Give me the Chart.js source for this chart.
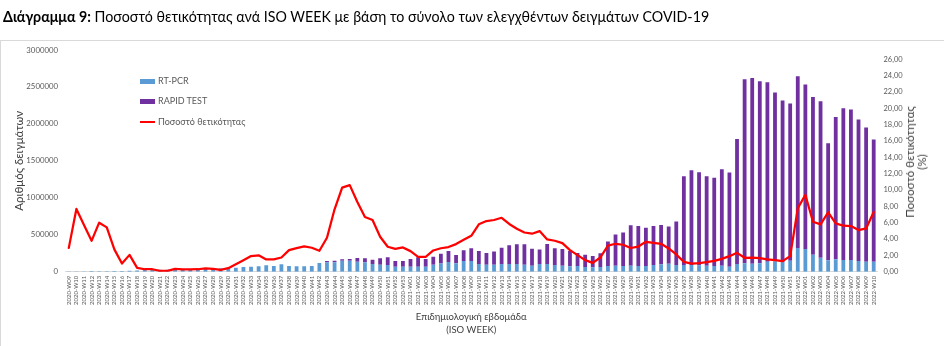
<!DOCTYPE html>
<html>
<head>
<meta charset="utf-8">
<script src="https://cdn.jsdelivr.net/npm/chart.js@4.4.1/dist/chart.umd.min.js"></script>
<style>
  html, body { margin: 0; padding: 0; background: #fff; }
  body { width: 944px; height: 346px; position: relative; overflow: hidden; font-family: Lato, 'Noto Sans', sans-serif; }
  #title { position: absolute; left: 3px; top: 7px; font-size: 15.5px; color: #000; white-space: nowrap;
           transform: scaleX(0.918); transform-origin: 0 0; }
  #title b { font-weight: 700; }
  #frame { position: absolute; left: 0; top: 40px; width: 980px; height: 340px; border-top: 1px solid #d9d9d9; border-left: 1px solid #d9d9d9; }
  #chart { position: absolute; left: 0; top: 0; }
  #legend { position: absolute; left: 0; top: 0; font-size: 9px; color: #595959; }
  .lg { position: absolute; white-space: nowrap; height: 12px; line-height: 12px; }
  .sw { position: absolute; left: 0; width: 15px; }
  .lt { position: absolute; left: 18px; top: 0; }
  #rtitle { position: absolute; left: 916px; top: 162px; transform: translate(-50%, -50%) rotate(-90deg);
            font-size: 11.5px; line-height: 12px; color: #404040; text-align: center; white-space: nowrap; }
</style>
</head>
<body>
<div id="frame"></div>
<canvas id="chart" width="944" height="346"></canvas>
<div id="title"><b>Διάγραμμα 9:</b> Ποσοστό θετικότητας ανά ISO WEEK με βάση το σύνολο των ελεγχθέντων δειγμάτων COVID-19</div>
<div id="legend"></div>
<div id="rtitle">Ποσοστό θετικότητας<br>(%)</div>
<script>
// ISO week ranges covered: 2020-W09 … 2022-W10
const weekRanges = [[2020, 9, 53], [2021, 1, 52], [2022, 1, 10]];
const weeks = [];
weekRanges.forEach(([yr, from, to]) => {
  for (let w = from; w <= to; w++) weeks.push(yr + '-W' + String(w).padStart(2, '0'));
});

// Weekly number of RT-PCR samples (thousands)
const rtPcrK = [
  2, 3, 4, 8, 5, 6, 8, 10, 12, 15, 25, 28, 25, 25, 35, 30, 30, 32, 40, 45, 45, 45, 55, 62, 68, 73,
  86, 77, 100, 77, 73, 73, 77, 117,
  127, 127, 149, 149, 135, 127, 104, 95, 90, 68, 68, 68, 68, 68, 95,
  110, 131, 113, 145, 145, 104, 95, 95, 104, 104, 104, 95, 81, 104, 104, 90, 81, 73, 77, 63, 59, 63, 77, 81, 77, 79, 77,
  77, 90, 100, 108, 90, 90, 90, 86, 81, 77, 81, 68, 104, 113, 108, 113,
  135, 140, 131, 149, 320, 307, 230, 189, 154, 167, 158, 158, 145, 135, 135
];

// Weekly number of rapid antigen tests (thousands)
const rapidTestK = [
  0, 0, 0, 0, 0, 0, 0, 0, 0, 0, 0, 0, 0, 0, 0, 0, 0, 0, 0, 0, 0, 0, 0, 0, 0, 0,
  0, 0, 0, 0, 0, 0, 0, 0,
  18, 22, 18, 23, 50, 54, 58, 86, 104, 77, 77, 104, 126, 104, 108,
  132, 149, 113, 144, 171, 176, 159, 178, 220, 253, 266, 275, 230, 198, 270, 226, 225, 207, 177, 167, 153, 185, 333, 424, 455, 549, 540,
  518, 527, 531, 505, 590, 1203, 1284, 1261, 1212, 1193, 1307, 1275, 1693, 2491, 2514, 2464,
  2428, 2284, 2185, 2126, 2325, 2225, 2135, 2118, 1585, 1928, 2054, 2036, 1914, 1815, 1655
];

// Weekly positivity rate (%)
const positivity = [
  2.92, 7.68, 5.71, 3.78, 6.0, 5.43, 2.73, 1.0, 2.06, 0.47, 0.3, 0.3, 0.1, 0.1, 0.35, 0.27, 0.27, 0.3, 0.4, 0.35, 0.22, 0.43, 0.92, 1.41, 1.92, 2.0,
  1.5, 1.5, 1.74, 2.64, 2.89, 3.09, 2.93, 2.56, 4.16, 7.64, 10.3, 10.6, 8.54, 6.7, 6.33, 4.28, 3.05, 2.8, 2.97, 2.52, 1.82, 1.82, 2.6, 2.87, 3.02,
  3.38, 3.9, 4.4, 5.8, 6.2, 6.33, 6.6, 5.84, 5.26, 4.8, 4.65, 4.97, 3.95, 3.79, 3.5, 2.64, 2.03, 1.41, 1.08, 1.74, 3.2, 3.42, 3.3, 2.9, 3.08,
  3.66, 3.54, 3.42, 2.85, 2.11, 1.2, 1.0, 1.04, 1.17, 1.33, 1.57, 1.9, 2.31, 1.7, 1.72, 1.66,
  1.5, 1.41, 1.29, 1.9, 7.76, 9.4, 6.12, 5.8, 7.27, 5.92, 5.63, 5.59, 5.1, 5.3, 7.3
];

const countTicks = [0, 500000, 1000000, 1500000, 2000000, 2500000, 3000000];
const rateTicks = [0, 2, 4, 6, 8, 10, 12, 14, 16, 18, 20, 22, 24, 26];

const FONT = "Lato, 'Noto Sans', sans-serif";
const TICK_COLOR = '#595959';

const datasets = [
  { type: 'bar', label: 'RT-PCR', data: rtPcrK.map(v => v * 1000), backgroundColor: '#5B9BD5',
    yAxisID: 'y', stack: 's', order: 1, barPercentage: 0.5, categoryPercentage: 1 },
  { type: 'bar', label: 'RAPID TEST', data: rapidTestK.map(v => v * 1000), backgroundColor: '#7030A0',
    yAxisID: 'y', stack: 's', order: 1, barPercentage: 0.5, categoryPercentage: 1 },
  { type: 'line', label: 'Ποσοστό θετικότητας', data: positivity, borderColor: '#FF0000', backgroundColor: '#FF0000',
    borderWidth: 2.25, pointRadius: 0, tension: 0, borderJoinStyle: 'round', borderCapStyle: 'round',
    yAxisID: 'y1', order: 0 }
];

// HTML legend placed inside the plot area
const legend = document.getElementById('legend');
const legendRows = [81, 101, 122];
datasets.forEach((ds, i) => {
  const row = document.createElement('div');
  row.className = 'lg';
  row.style.left = '140px';
  row.style.top = (legendRows[i] - 6) + 'px';
  const sw = document.createElement('div');
  sw.className = 'sw';
  const h = ds.type === 'line' ? 2 : 5;
  sw.style.height = h + 'px';
  sw.style.top = (6 - h / 2) + 'px';
  sw.style.background = ds.type === 'line' ? ds.borderColor : ds.backgroundColor;
  const tx = document.createElement('div');
  tx.className = 'lt';
  tx.textContent = ds.label;
  row.appendChild(sw);
  row.appendChild(tx);
  legend.appendChild(row);
});

const keepTicks = list => scale => {
  scale.ticks = list.map(v => ({ value: v }));
};

new Chart(document.getElementById('chart'), {
  data: { labels: weeks, datasets },
  options: {
    responsive: false,
    animation: false,
    devicePixelRatio: 1,
    layout: { padding: { top: 50, left: 0, right: 0, bottom: 0 } },
    plugins: { legend: { display: false }, tooltip: { enabled: false } },
    scales: {
      x: {
        stacked: true,
        offset: true,
        grid: { display: false, drawTicks: false },
        border: { display: true, color: '#d9d9d9', width: 1 },
        ticks: { autoSkip: false, minRotation: 90, maxRotation: 90, padding: 4,
                 font: { family: FONT, size: 6 }, color: TICK_COLOR },
        title: { display: true, text: ['Επιδημιολογική εβδομάδα', '(ISO WEEK)'], color: '#404040',
                 font: { family: FONT, size: 9.5, lineHeight: 13 / 9.5 }, padding: { top: 0, bottom: 10 } },
        afterFit: s => { s.height = 74.3; }
      },
      y: {
        position: 'left',
        stacked: true,
        min: 0, max: 3000000,
        afterBuildTicks: keepTicks(countTicks),
        grid: { display: false, drawTicks: false },
        border: { display: false },
        ticks: { padding: 7, font: { family: FONT, size: 7.8 }, color: TICK_COLOR, callback: v => String(v) },
        title: { display: true, text: 'Αριθμός δειγμάτων', color: '#404040',
                 font: { family: FONT, size: 11.5 }, padding: { top: 12, bottom: 0 } },
        afterFit: s => { s.width = 65; }
      },
      y1: {
        position: 'right',
        min: 0, max: 27.14,
        afterBuildTicks: keepTicks(rateTicks),
        grid: { display: false, drawTicks: false },
        border: { display: false },
        ticks: { padding: 6, font: { family: FONT, size: 7.5 }, color: TICK_COLOR,
                 callback: v => v.toFixed(2).replace('.', ',') },
        afterFit: s => { s.width = 66.5; }
      }
    }
  }
});
</script>
</body>
</html>
